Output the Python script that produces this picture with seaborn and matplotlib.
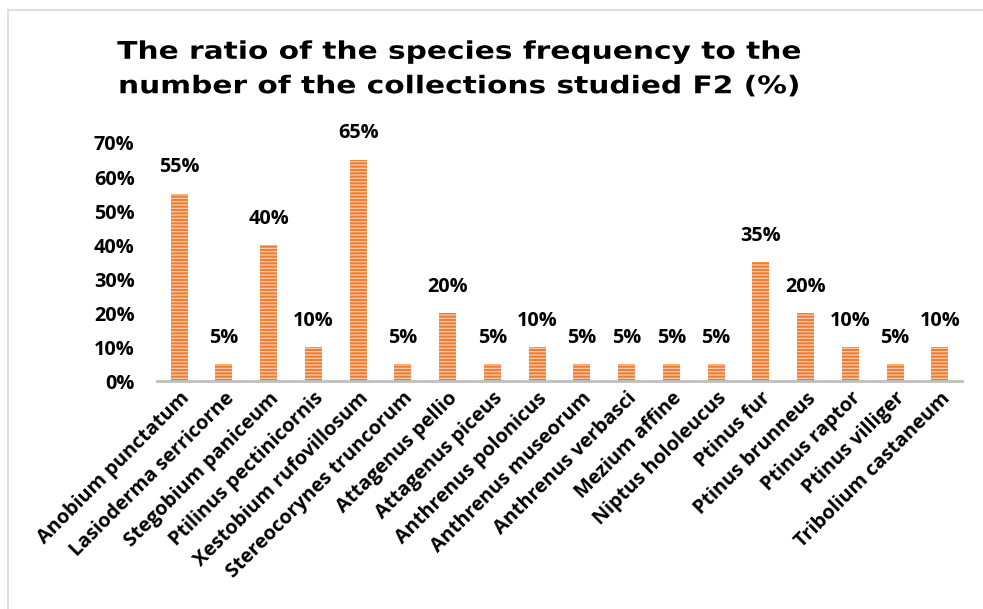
import matplotlib
matplotlib.use("Agg")
import matplotlib.pyplot as plt
from matplotlib.ticker import PercentFormatter
from matplotlib.lines import Line2D
from matplotlib.patheffects import AbstractPathEffect
from matplotlib.transforms import Affine2D
import seaborn as sns
import pandas as pd

species = ["Anobium punctatum", "Lasioderma serricorne", "Stegobium paniceum",
           "Ptilinus pectinicornis", "Xestobium rufovillosum", "Stereocorynes truncorum",
           "Attagenus pellio", "Attagenus piceus", "Anthrenus polonicus",
           "Anthrenus museorum", "Anthrenus verbasci", "Mezium affine",
           "Niptus hololeucus", "Ptinus fur", "Ptinus brunneus", "Ptinus raptor",
           "Ptinus villiger", "Tribolium castaneum"]
f2_percent = [55, 5, 40, 10, 65, 5, 20, 5, 10, 5, 5, 5, 5, 35, 20, 10, 5, 10]
title_text = "The ratio of the species frequency to the\nnumber of the collections studied F2 (%)"

df = pd.DataFrame({"species": species, "F2": [v / 100 for v in f2_percent]})

sns.set_theme(style="white")
plt.rcParams["font.family"] = ["Open Sans", "DejaVu Sans"]
plt.rcParams["hatch.linewidth"] = 0.9

W, H, DPI = 9.83, 6.09, 100
fig = plt.figure(figsize=(W, H), dpi=DPI)
ax = fig.add_axes([0.1595, 0.3736, 0.8194, 0.3916])

sns.barplot(data=df, x="species", y="F2", color="#ED7D31", width=0.38,
            saturation=1, ax=ax)
for p in ax.patches:
    p.set_hatch("-----")
    p.set_edgecolor("#F8CBAD")
    p.set_linewidth(0)

ax.set_ylim(0, 0.70)
ax.set_xlim(-0.5, len(species) - 0.5)
ax.yaxis.set_major_formatter(PercentFormatter(1.0, decimals=0))
ax.set_yticks([i / 10 for i in range(8)])
ax.set_xlabel("")
ax.set_ylabel("")
for s in ["top", "right", "left"]:
    ax.spines[s].set_visible(False)
ax.spines["bottom"].set_color("#BFBFBF")
ax.spines["bottom"].set_linewidth(2)
ax.tick_params(axis="both", length=0, labelsize=14.3, colors="black")
ax.tick_params(axis="y", pad=16)
ax.tick_params(axis="x", pad=5)
for lab in ax.get_yticklabels():
    lab.set_fontweight("bold")
ax.set_xticks(range(len(species)))
ax.set_xticklabels(species, rotation=45, ha="right", rotation_mode="anchor",
                   fontweight="bold", fontsize=14.3)

for c in ax.containers:
    ax.bar_label(c, labels=[f"{v}%" for v in f2_percent], padding=12,
                 fontsize=14.3, fontweight="bold", color="black")


class StretchX(AbstractPathEffect):
    """Widen the rendered text horizontally around a centre (spaced-out title look)."""
    def __init__(self, sx, cx_px):
        super().__init__()
        self.sx = sx
        self.cx = cx_px

    def draw_path(self, renderer, gc, tpath, affine, rgbFace=None):
        t = affine + Affine2D().translate(-self.cx, 0).scale(self.sx, 1).translate(self.cx, 0)
        renderer.draw_path(gc, tpath, t, rgbFace)


title_x = 0.466
fig.text(title_x, 1 - 69 / 609, title_text, ha="center", va="center",
         fontsize=17.5, fontweight="bold", linespacing=1.55, color="black",
         family=["DejaVu Sans"],
         path_effects=[StretchX(1.22, title_x * W * DPI)])

# chart area border
fig.add_artist(Line2D([8 / 983, 1], [1 - 10 / 609, 1 - 10 / 609], color="#D9D9D9", lw=1.2))
fig.add_artist(Line2D([8 / 983, 8 / 983], [0, 1 - 10 / 609], color="#D9D9D9", lw=1.2))

fig.savefig("out.png", dpi=DPI)
